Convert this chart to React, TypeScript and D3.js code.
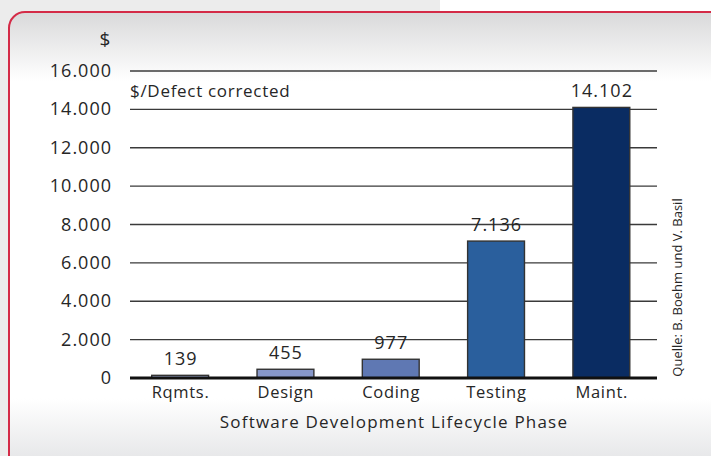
import React from 'react';
import * as d3 from 'd3';

const phases = ['Rqmts.', 'Design', 'Coding', 'Testing', 'Maint.'];
const costs = [139, 455, 977, 7136, 14102];
const barColors = ['#a4b1d9', '#8797c9', '#5f78b3', '#2a5f9d', '#0a2c62'];
const yTicks = [0, 2000, 4000, 6000, 8000, 10000, 12000, 14000, 16000];

const fmt = (v: number) => d3.format(',')(v).replace(/,/g, '.');
const FONT = '"Open Sans", sans-serif';

export default function App() {
  const width = 711;
  const height = 456;
  const left = 130;
  const right = 657;

  const x = d3.scaleBand<string>().domain(phases).range([127.5, 654]).paddingInner(0.46).paddingOuter(0.23);
  const y = d3.scaleLinear().domain([0, 16000]).range([378, 71]);

  return (
    <svg width={width} height={height} style={{ position: 'absolute', left: 0, top: 0 }}>
      <defs>
        <linearGradient id="panelFill" x1="0" y1="0" x2="0" y2="1">
          <stop offset="0" stopColor="#d9d9da" />
          <stop offset="0.15" stopColor="#ffffff" />
          <stop offset="0.84" stopColor="#ffffff" />
          <stop offset="1" stopColor="#e1e2e4" />
        </linearGradient>
      </defs>
      <rect x={0} y={0} width={width} height={height} fill="#ececec" />
      <rect x={440} y={0} width={width - 440} height={12} fill="#ffffff" />
      <rect x={9} y={12} width={740} height={460} rx={16} ry={16}
        fill="url(#panelFill)" stroke="#d42b47" strokeWidth={2} />

      {yTicks.filter(t => t > 0).map(t => (
        <line key={t} x1={left} x2={right} y1={y(t)} y2={y(t)} stroke="#3a3a3a" strokeWidth={1.4} />
      ))}

      {yTicks.map(t => (
        <text key={'l' + t} x={112} y={y(t) + 6} textAnchor="end" fontFamily={FONT}
          fontSize={18} letterSpacing={1} fill="#262626">{fmt(t)}</text>
      ))}
      <text x={105} y={46} textAnchor="middle" fontFamily={FONT} fontSize={19} fill="#262626">$</text>
      <text x={130} y={97} fontFamily={FONT} fontSize={17} letterSpacing={0.7} fill="#262626">$/Defect corrected</text>

      {phases.map((p, i) => (
        <g key={p}>
          <rect x={x(p)} y={y(costs[i])} width={x.bandwidth()} height={y(0) - y(costs[i])}
            fill={barColors[i]} stroke="#333" strokeWidth={1.4} />
          <text x={(x(p) as number) + x.bandwidth() / 2 + 0.5} y={y(costs[i]) - 10} textAnchor="middle"
            fontFamily={FONT} fontSize={18} letterSpacing={1} fill="#262626">{fmt(costs[i])}</text>
          <text x={(x(p) as number) + x.bandwidth() / 2 + 0.4} y={398} textAnchor="middle"
            fontFamily={FONT} fontSize={16.5} letterSpacing={0.7} fill="#262626">{p}</text>
        </g>
      ))}

      <line x1={left} x2={right} y1={y(0)} y2={y(0)} stroke="#111" strokeWidth={3} />

      <text x={394} y={428} textAnchor="middle" fontFamily={FONT} fontSize={17} letterSpacing={1.2} fill="#262626">
        Software Development Lifecycle Phase
      </text>

      <text transform="translate(681.5,287.5) rotate(-90)" textAnchor="middle" fontFamily={FONT}
        fontSize={13} fill="#262626">Quelle: B. Boehm und V. Basil</text>
    </svg>
  );
}
